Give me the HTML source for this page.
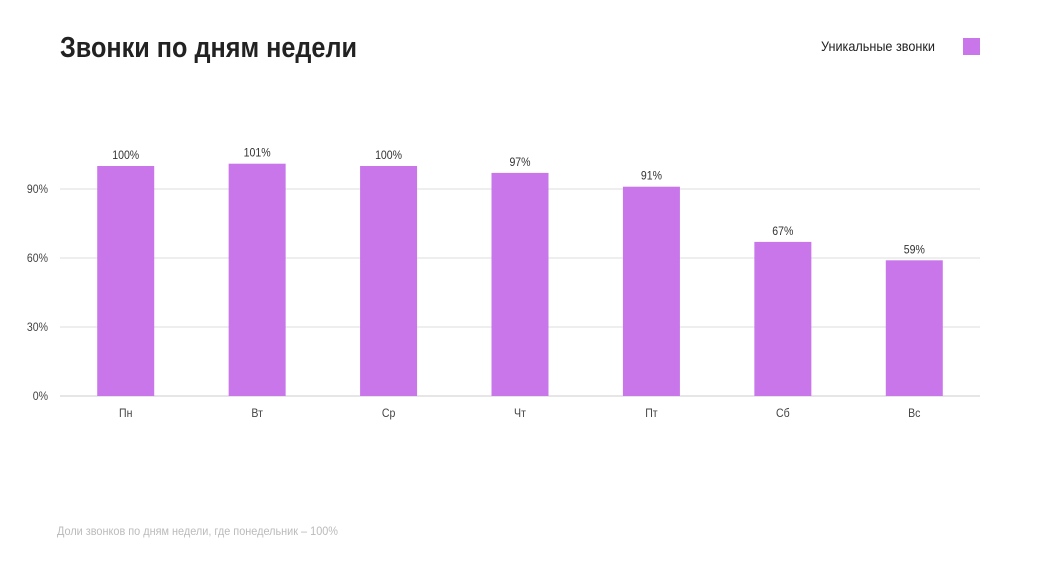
<!DOCTYPE html>
<html><head><meta charset="utf-8"><style>
body{margin:0;background:#fff;width:1042px;height:576px;overflow:hidden;font-family:"Liberation Sans",sans-serif;}
svg{display:block}
</style></head><body>
<svg width="1042" height="576">
<text x="60" y="57" font-size="29" font-weight="bold" fill="#222" textLength="297" lengthAdjust="spacingAndGlyphs">Звонки по дням недели</text>
<text x="821" y="51" font-size="14" fill="#222" textLength="114" lengthAdjust="spacingAndGlyphs">Уникальные звонки</text>
<rect x="963" y="38" width="17" height="17" fill="#c976eb"/>
<g id="grid"></g><g id="bars"></g>
<text x="57" y="535" font-size="12" fill="#bbb" textLength="281" lengthAdjust="spacingAndGlyphs">Доли звонков по дням недели, где понедельник – 100%</text>
</svg>
<script>
const categories=["Пн","Вт","Ср","Чт","Пт","Сб","Вс"];
const values=[100,101,100,97,91,67,59];
const labels=["100%","101%","100%","97%","91%","67%","59%"];
const ticks=[0,30,60,90];
const ns="http://www.w3.org/2000/svg";
const x0=60,x1=980,yBase=396,pxPer=230/100;
const y=v=>yBase-v*pxPer;
const band=(x1-x0)/categories.length;
const xc=i=>x0+band*(i+0.5);
const g=document.getElementById('grid'),b=document.getElementById('bars');
function mk(tag,attrs,parent,text){const e=document.createElementNS(ns,tag);for(const k in attrs)e.setAttribute(k,attrs[k]);if(text!==undefined)e.textContent=text;parent.appendChild(e);return e;}
function narrow(e){const L=e.getComputedTextLength();e.setAttribute('textLength',(L*0.88).toFixed(1));e.setAttribute('lengthAdjust','spacingAndGlyphs');}
ticks.forEach(t=>{
  const l=mk('line',{x1:x0,x2:x1,y1:y(t),y2:y(t),stroke:t===0?'#ccc':'#ddd','stroke-width':1},g);
  
  
  const tx=mk('text',{x:48,y:y(t)+4,'font-size':12,fill:'#444','text-anchor':'end'},g,t+'%');
  
  
  narrow(tx);
});
categories.forEach((c,i)=>{
  const w=57;
  const r=mk('rect',{x:xc(i)-w/2,y:y(values[i]),width:w,height:yBase-y(values[i]),fill:'#c976eb'},b);
  
  
  const vl=mk('text',{x:xc(i),y:y(values[i])-7,'font-size':12,fill:'#333','text-anchor':'middle'},b,labels[i]);
  
  
  narrow(vl);
  const cl=mk('text',{x:xc(i),y:417,'font-size':12,fill:'#444','text-anchor':'middle'},b,c);
  
  
  narrow(cl);
});
</script>
</body></html>
